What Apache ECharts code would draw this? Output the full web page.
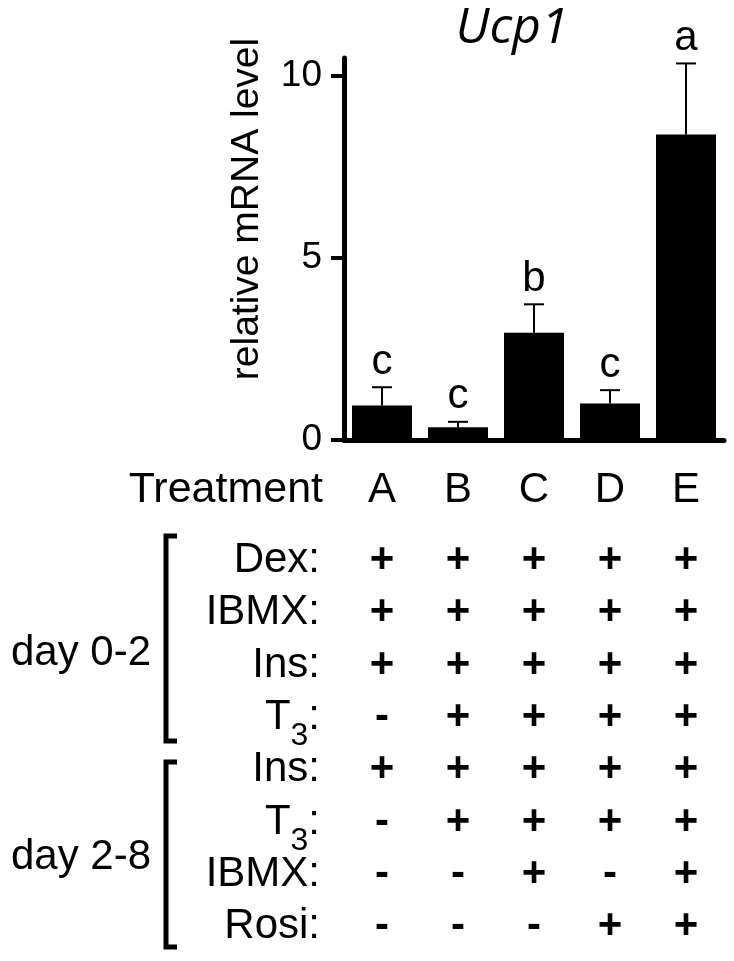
<!DOCTYPE html>
<html>
<head>
<meta charset="utf-8">
<script src="https://cdn.jsdelivr.net/npm/echarts@6/dist/echarts.min.js"></script>
<style>
html, body { margin: 0; padding: 0; background: #fff; }
#chart { width: 734px; height: 961px; }
</style>
</head>
<body>
<div id="chart"></div>
<script>
const treatments = ['A', 'B', 'C', 'D', 'E']
const meanLevel = [0.95, 0.35, 2.95, 1.0, 8.4]
const semLevel = [0.5, 0.15, 0.78, 0.37, 1.95]
const sigLetters = ['c', 'c', 'b', 'c', 'a']
const yTicks = [0, 5, 10]

// treatment table: one row per compound
const rowLabels = ['Dex:', 'IBMX:', 'Ins:', 'T{s|3}:', 'Ins:', 'T{s|3}:', 'IBMX:', 'Rosi:']
const rowMarks = [
  ['+', '+', '+', '+', '+'],
  ['+', '+', '+', '+', '+'],
  ['+', '+', '+', '+', '+'],
  ['-', '+', '+', '+', '+'],
  ['+', '+', '+', '+', '+'],
  ['-', '+', '+', '+', '+'],
  ['-', '-', '+', '-', '+'],
  ['-', '-', '-', '+', '+']
]
const phases = ['day 0-2', 'day 2-8']

// layout
const axisY = 440
const rowY = [560, 612.5, 665, 717, 769.5, 822, 874, 926]
const font = '"Liberation Sans", Arial, sans-serif'

const chart = echarts.init(document.getElementById('chart'))

const rowAxes = rowMarks.map((marks, r) => ({
  type: 'category',
  gridIndex: 0,
  position: 'bottom',
  offset: rowY[r] - axisY,
  data: treatments,
  axisLine: { show: false },
  axisTick: { show: false },
  axisLabel: {
    interval: 0,
    margin: 0,
    verticalAlign: 'middle',
    fontFamily: font,
    fontWeight: 'bold',
    fontSize: 42,
    color: '#000',
    formatter: (v, i) => marks[i]
  }
}))

const graphics = []
rowLabels.forEach((label, r) => {
  graphics.push({
    type: 'text',
    x: 320,
    y: rowY[r],
    style: {
      text: label,
      fill: '#000',
      font: '42px ' + font,
      align: 'right',
      verticalAlign: 'middle',
      rich: { s: { fontSize: 32, fontFamily: font, fill: '#000', padding: [38, 0, 0, 0], verticalAlign: 'bottom' } }
    }
  })
})
graphics.push({
  type: 'text', x: 323, y: 490,
  style: { text: 'Treatment', fill: '#000', font: '43px ' + font, align: 'right', verticalAlign: 'middle' }
})
graphics.push({
  type: 'text', x: 247, y: 209, rotation: Math.PI / 2,
  style: { text: 'relative mRNA level', fill: '#000', font: '39px ' + font, align: 'center', verticalAlign: 'middle' }
})
const brackets = [[536, 741], [762, 947]]
const phaseY = [653, 857]
brackets.forEach((b, k) => {
  graphics.push({
    type: 'polyline',
    shape: { points: [[177, b[0]], [166, b[0]], [166, b[1]], [177, b[1]]] },
    style: { stroke: '#000', lineWidth: 5, fill: null }
  })
  graphics.push({
    type: 'text', x: 151, y: phaseY[k],
    style: { text: phases[k], fill: '#000', font: '42px ' + font, align: 'right', verticalAlign: 'middle' }
  })
})

chart.setOption({
  animation: false,
  backgroundColor: '#fff',
  title: {
    text: 'Ucp1',
    left: 512,
    top: 4,
    padding: 0,
    textAlign: 'center',
    textStyle: { fontFamily: '"Open Sans", sans-serif', fontStyle: 'italic', fontWeight: 'normal', fontSize: 50, color: '#000' }
  },
  grid: { left: 344, right: 10, top: 58, bottom: 961 - axisY },
  xAxis: [{
    type: 'category',
    data: treatments,
    axisLine: { lineStyle: { color: '#000', width: 5 } },
    axisTick: { show: false },
    axisLabel: { interval: 0, margin: 50, verticalAlign: 'middle', fontFamily: font, fontSize: 42, color: '#000' }
  }].concat(rowAxes),
  yAxis: {
    type: 'value',
    min: 0,
    max: 10.5,
    interval: 5,
    splitLine: { show: false },
    axisLine: { show: true, lineStyle: { color: '#000', width: 5 } },
    axisTick: { show: true, length: 13, customValues: yTicks, lineStyle: { color: '#000', width: 4 } },
    axisLabel: { margin: 22, customValues: yTicks, fontFamily: font, fontSize: 37, color: '#000' }
  },
  graphic: graphics,
  series: [{
    type: 'bar',
    data: meanLevel,
    barWidth: 60,
    itemStyle: { color: '#000' },
    z: 2
  }, {
    type: 'custom',
    data: treatments.map((t, i) => [i, meanLevel[i], semLevel[i]]),
    encode: { x: 0, y: 1 },
    z: 3,
    renderItem: (params, api) => {
      const i = api.value(0)
      const mean = api.value(1)
      const base = api.coord([i, mean])
      const top = api.coord([i, mean + api.value(2)])
      return {
        type: 'group',
        children: [{
          type: 'line',
          shape: { x1: base[0], y1: base[1], x2: top[0], y2: top[1] },
          style: { stroke: '#000', lineWidth: 2 }
        }, {
          type: 'line',
          shape: { x1: top[0] - 10, y1: top[1], x2: top[0] + 10, y2: top[1] },
          style: { stroke: '#000', lineWidth: 2 }
        }, {
          type: 'text',
          x: top[0],
          y: top[1] - 4,
          style: { text: sigLetters[params.dataIndex], fill: '#000', font: '42px ' + font, align: 'center', verticalAlign: 'bottom' }
        }]
      }
    }
  }]
})
</script>
</body>
</html>
